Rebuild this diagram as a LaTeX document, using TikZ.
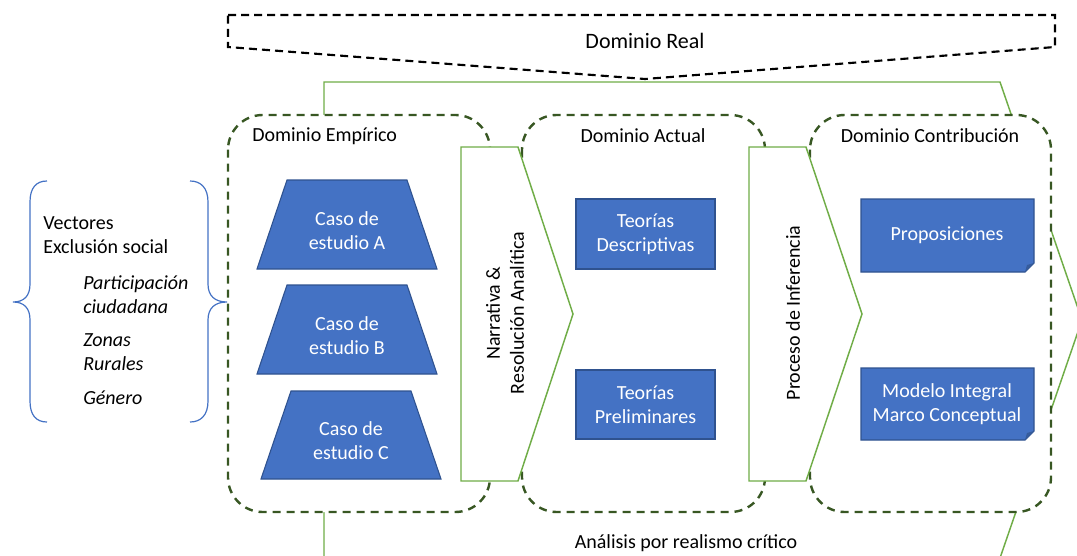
\documentclass[tikz,border=0pt]{standalone}
\usepackage{fontspec}
\setmainfont{Carlito}
\definecolor{azul}{HTML}{4472C4}
\definecolor{azuloscuro}{HTML}{2F528F}
\definecolor{pliegue}{HTML}{365C9C}
\definecolor{verdeosc}{HTML}{385723}
\definecolor{verde}{HTML}{70AD47}

\begin{document}
\begin{tikzpicture}[x=0.75pt,y=-0.75pt]
\tikzstyle{every node}=[font=\fontsize{15}{18}\selectfont,align=center,inner sep=0pt]
\tikzstyle{dominio}=[draw=verdeosc,line width=1.8pt,dash pattern=on 6pt off 4.5pt,rounded corners=26pt,fill=white]
\tikzstyle{flecha}=[draw=verde,line width=1.1pt,fill=white,line join=miter]
\tikzstyle{caja}=[draw=azuloscuro,fill=azul,line width=0.8pt]
\tikzstyle{llave}=[draw=azul,line width=0.9pt]
\tikzstyle{blanco}=[text=white]
\useasboundingbox (0,0) rectangle (1077,556);
\clip (0,0) rectangle (1077,556);

\draw[black,line width=1.6pt,dash pattern=on 6pt off 3.8pt]
  (228,15) -- (1055,15) -- (1055,47) -- (645,79) -- (228,47) -- cycle;
\node[font=\fontsize{16.5}{20}\selectfont] (real) at (645,41) {Dominio Real};

\draw[flecha] (324,82) -- (1000,82) -- (1082,320) -- (1000,558) -- (324,558) -- cycle;
\node (critico) at (686,543) {Análisis por realismo crítico};

\draw[dominio] (228,115) rectangle (490,512);
\draw[dominio] (522,115) rectangle (765,512);
\draw[dominio] (810,115) rectangle (1051,512);
\node[anchor=west] (empirico) at (252,136) {Dominio Empírico};
\node (actual) at (643,136) {Dominio Actual};
\node (contrib) at (930,136) {Dominio Contribución};

\draw[flecha] (461,147) -- (518,147) -- (573,314) -- (518,481) -- (461,481) -- cycle;
\draw[flecha] (749,147) -- (806,147) -- (862,314) -- (806,481) -- (749,481) -- cycle;
\node[rotate=90] (narrativa) at (505,313) {Narrativa \&\\Resolución Analítica};
\node[rotate=90] (inferencia) at (793,313) {Proceso de Inferencia};

\draw[caja] (287,180) -- (407,180) -- (437,269) -- (257,269) -- cycle;
\draw[caja] (287,285) -- (407,285) -- (437,374) -- (257,374) -- cycle;
\draw[caja] (291,391) -- (411,391) -- (441,479) -- (261,479) -- cycle;
\node[blanco] (casoA) at (347,231) {Caso de\\estudio A};
\node[blanco] (casoB) at (347,336) {Caso de\\estudio B};
\node[blanco] (casoC) at (351,441) {Caso de\\estudio C};

\draw[caja] (576,199) rectangle (715,269);
\draw[caja] (576,370) rectangle (715,439);
\node[blanco] (descriptivas) at (645.5,234) {Teorías\\Descriptivas};
\node[blanco] (preliminares) at (645.5,404.5) {Teorías\\Preliminares};

\draw[caja] (861,199) -- (1034,199) -- (1034,263) -- (1025,272) -- (861,272) -- cycle;
\fill[pliegue] (1025,272) -- (1027,265) -- (1034,263) -- cycle;
\draw[caja] (861,368) -- (1034,368) -- (1034,431) -- (1025,440) -- (861,440) -- cycle;
\fill[pliegue] (1025,440) -- (1027,433) -- (1034,431) -- cycle;
\node[blanco] (proposiciones) at (947,235) {Proposiciones};
\node[blanco] (modelo) at (947,404) {Modelo Integral\\Marco Conceptual};

\draw[llave] (47,181) .. controls (36,181) and (30,188) .. (30,202) -- (30,284)
  .. controls (30,296) and (24,302) .. (13,302)
  .. controls (24,302) and (30,308) .. (30,320) -- (30,401)
  .. controls (30,415) and (36,422) .. (47,422);
\draw[llave] (190,181) .. controls (201,181) and (208,188) .. (208,202) -- (208,284)
  .. controls (208,296) and (215,302) .. (227,302)
  .. controls (215,302) and (208,308) .. (208,320) -- (208,401)
  .. controls (208,415) and (201,422) .. (190,422);
\node[anchor=west,align=left] (vectores) at (43,235) {Vectores\\Exclusión social};
\node[anchor=west,align=left,font=\fontsize{15}{18}\selectfont\itshape] (participacion) at (83,294.5) {Participación\\ciudadana};
\node[anchor=west,align=left,font=\fontsize{15}{18}\selectfont\itshape] (zonas) at (83,352) {Zonas\\Rurales};
\node[anchor=west,align=left,font=\fontsize{15}{18}\selectfont\itshape] (genero) at (83,398) {Género};
\end{tikzpicture}
\end{document}
